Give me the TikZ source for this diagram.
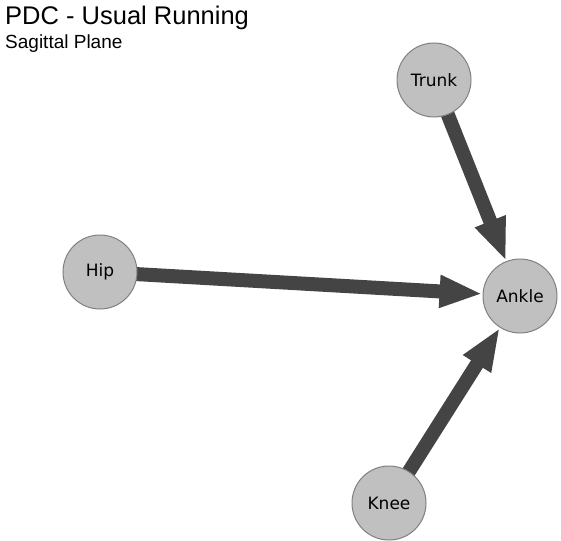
\documentclass[tikz,border=0pt]{standalone}
\usepackage{fontspec}
\setmainfont{Liberation Sans}
\newfontfamily\nodefont{DejaVu Sans}
\usetikzlibrary{arrows.meta,backgrounds}
\definecolor{nodefill}{RGB}{192,192,192}
\definecolor{nodeline}{RGB}{128,128,128}
\definecolor{edgecol}{RGB}{68,68,68}
\begin{document}
\begin{tikzpicture}[x=1pt,y=-1pt,
  vnode/.style={circle, fill=nodefill, draw=nodeline, line width=1pt, minimum size=74pt, inner sep=0pt, font=\nodefont\fontsize{17}{20}\selectfont},
  edge/.style={draw=edgecol, line width=14pt, -{Triangle[length=43pt,width=30pt]}}]
\useasboundingbox (0,0) rectangle (561,540);
\node[anchor=base west, font=\fontsize{25.5}{29}\selectfont, inner sep=0pt] (title) at (5,25) {PDC - Usual Running};
\node[anchor=base west, font=\fontsize{19}{22}\selectfont, inner sep=0pt] (sub) at (5,49) {Sagittal Plane};
\node[vnode] (trunk) at (434,80) {Trunk};
\node[vnode] (hip) at (100,272) {Hip};
\node[vnode] (ankle) at (520,296) {Ankle};
\node[vnode] (knee) at (389,503) {Knee};
\begin{pgfonlayer}{background}
\fill[white] (0,0) rectangle (561,540);
\draw[edge] (trunk.center) -- (ankle);
\draw[edge] (hip.center) -- (ankle);
\draw[edge] (knee.center) -- (ankle);
\end{pgfonlayer}
\end{tikzpicture}
\end{document}
